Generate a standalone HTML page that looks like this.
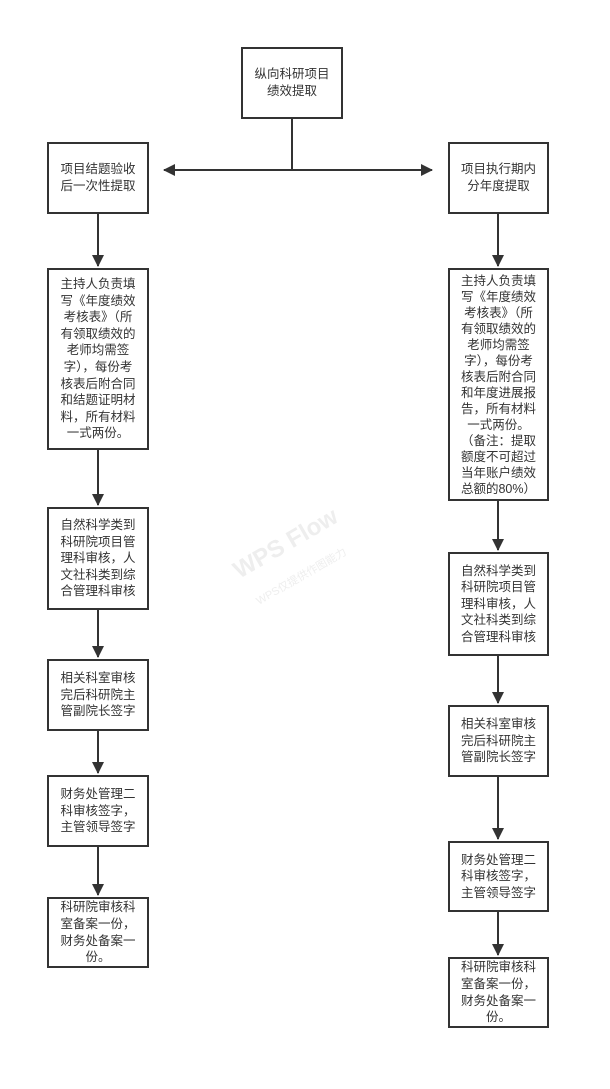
<!DOCTYPE html>
<html><head><meta charset="utf-8"><style>
body{margin:0;width:610px;height:1089px;background:#fff;position:relative;overflow:hidden;font-family:"Liberation Sans","Noto Sans CJK SC",sans-serif;}
.b{position:absolute;box-sizing:border-box;border:2px solid #333;background:#fff;display:flex;align-items:center;justify-content:center;text-align:center;font-size:12.5px;line-height:16.6px;color:#333;padding:0 6px;}
.wm{position:absolute;left:228px;top:530px;transform:rotate(-30deg);color:#eee;font-weight:bold;font-size:24px;}
.wm2{position:absolute;left:250px;top:568px;transform:rotate(-30deg);color:#eee;font-size:11px;}
</style></head><body>
<div class="wm">WPS Flow</div><div class="wm2">WPS仅提供作图能力</div>
<svg width="610" height="1089" style="position:absolute;left:0;top:0">
<defs><marker id="a" markerWidth="12" markerHeight="12" refX="11" refY="6" orient="auto" markerUnits="userSpaceOnUse"><path d="M0,0 L12,6 L0,12 Z" fill="#333"/></marker></defs>
<g stroke="#333" stroke-width="2" fill="none">
<line x1="292" y1="118" x2="292" y2="170"/>
<line x1="292" y1="170" x2="164" y2="170" marker-end="url(#a)"/>
<line x1="292" y1="170" x2="432" y2="170" marker-end="url(#a)"/>
<line x1="98" y1="213" x2="98" y2="266" marker-end="url(#a)"/>
<line x1="98" y1="449" x2="98" y2="505" marker-end="url(#a)"/>
<line x1="98" y1="609" x2="98" y2="657" marker-end="url(#a)"/>
<line x1="98" y1="730" x2="98" y2="773" marker-end="url(#a)"/>
<line x1="98" y1="846" x2="98" y2="895" marker-end="url(#a)"/>
<line x1="498" y1="213" x2="498" y2="266" marker-end="url(#a)"/>
<line x1="498" y1="500" x2="498" y2="550" marker-end="url(#a)"/>
<line x1="498" y1="655" x2="498" y2="703" marker-end="url(#a)"/>
<line x1="498" y1="776" x2="498" y2="839" marker-end="url(#a)"/>
<line x1="498" y1="911" x2="498" y2="955" marker-end="url(#a)"/>
</g></svg>
<div class="b" style="left:241px;top:47px;width:102px;height:72px">纵向科研项目<br>绩效提取</div>
<div class="b" style="left:47px;top:142px;width:102px;height:72px">项目结题验收<br>后一次性提取</div>
<div class="b" style="left:448px;top:142px;width:101px;height:72px">项目执行期内<br>分年度提取</div>
<div class="b" style="left:47px;top:268px;width:102px;height:182px">主持人负责填<br>写《年度绩效<br>考核表》（所<br>有领取绩效的<br>老师均需签<br>字），每份考<br>核表后附合同<br>和结题证明材<br>料，所有材料<br>一式两份。</div>
<div class="b" style="left:47px;top:507px;width:102px;height:103px">自然科学类到<br>科研院项目管<br>理科审核，人<br>文社科类到综<br>合管理科审核</div>
<div class="b" style="left:47px;top:659px;width:102px;height:72px">相关科室审核<br>完后科研院主<br>管副院长签字</div>
<div class="b" style="left:47px;top:775px;width:102px;height:72px">财务处管理二<br>科审核签字，<br>主管领导签字</div>
<div class="b" style="left:47px;top:897px;width:102px;height:71px">科研院审核科<br>室备案一份，<br>财务处备案一<br>份。</div>
<div class="b" style="left:448px;top:268px;width:101px;height:233px;line-height:16px">主持人负责填<br>写《年度绩效<br>考核表》（所<br>有领取绩效的<br>老师均需签<br>字），每份考<br>核表后附合同<br>和年度进展报<br>告，所有材料<br>一式两份。<br>（备注：提取<br>额度不可超过<br>当年账户绩效<br>总额的80%）</div>
<div class="b" style="left:448px;top:552px;width:101px;height:104px">自然科学类到<br>科研院项目管<br>理科审核，人<br>文社科类到综<br>合管理科审核</div>
<div class="b" style="left:448px;top:705px;width:101px;height:72px">相关科室审核<br>完后科研院主<br>管副院长签字</div>
<div class="b" style="left:448px;top:841px;width:101px;height:71px">财务处管理二<br>科审核签字，<br>主管领导签字</div>
<div class="b" style="left:448px;top:957px;width:101px;height:71px">科研院审核科<br>室备案一份，<br>财务处备案一<br>份。</div>
</body></html>
